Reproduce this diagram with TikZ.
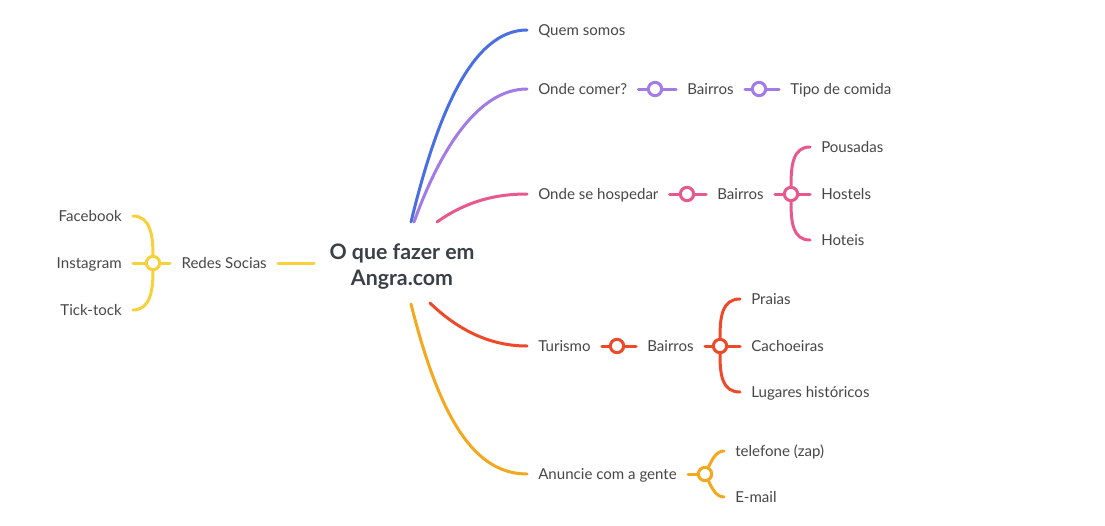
\documentclass[tikz,border=0pt]{standalone}
\usepackage{fontspec}
\setmainfont{Lato}
\usetikzlibrary{backgrounds}
\definecolor{cblue}{HTML}{4A6FE3}
\definecolor{cpurple}{HTML}{A27BE6}
\definecolor{cpink}{HTML}{E9588C}
\definecolor{cred}{HTML}{EE4A2A}
\definecolor{corange}{HTML}{F4A81D}
\definecolor{cyellow}{HTML}{F8D03A}
\definecolor{ctext}{HTML}{474747}
\definecolor{ctitle}{HTML}{3B4048}
\begin{document}
\begin{tikzpicture}[x=0.75pt,y=-0.75pt,
  txt/.style={font=\fontsize{11.3pt}{13pt}\selectfont, text=ctext, inner xsep=8.25pt, inner ysep=1pt, text height=8.2pt, text depth=0.2pt},
  dot/.style={circle, draw, line width=2.25pt, fill=white, minimum size=10pt, inner sep=0pt},
  br/.style={line width=2.25pt, line cap=round}]
\useasboundingbox (0,0) rectangle (1105,525);

% title
\node[font=\bfseries\fontsize{16pt}{19.5pt}\selectfont, text=ctitle, align=center] (title) at (402,266.5) {O que fazer em\\Angra.com};

% first level
\node[txt,anchor=west] (quem) at (527,30) {Quem somos};
\node[txt,anchor=west] (comer) at (527,89) {Onde comer?};
\node[txt,anchor=west] (hosp) at (527,194) {Onde se hospedar};
\node[txt,anchor=west] (tur) at (527,346) {Turismo};
\node[txt,anchor=west] (anu) at (527,474) {Anuncie com a gente};
\node[txt,anchor=east] (redes) at (278,263) {Redes Socias};

% comer
\node[dot,draw=cpurple] (pc1) at (655,89) {};
\node[txt,anchor=west] (pb) at (676,89) {Bairros};
\node[dot,draw=cpurple] (pc2) at (759,89) {};
\node[txt,anchor=west] (tipo) at (779,89) {Tipo de comida};

% hospedar
\node[dot,draw=cpink] (kc1) at (687,194) {};
\node[txt,anchor=west] (kb) at (706,194) {Bairros};
\node[dot,draw=cpink] (kc2) at (791,194) {};
\node[txt,anchor=west] (pous) at (810,147) {Pousadas};
\node[txt,anchor=west] (host) at (810,194) {Hostels};
\node[txt,anchor=west] (hot) at (810,240) {Hoteis};

% turismo
\node[dot,draw=cred] (rc1) at (617,346) {};
\node[txt,anchor=west] (rb) at (636,346) {Bairros};
\node[dot,draw=cred] (rc2) at (720,346) {};
\node[txt,anchor=west] (pra) at (740,299) {Praias};
\node[txt,anchor=west] (cach) at (740,346) {Cachoeiras};
\node[txt,anchor=west] (lug) at (740,392) {Lugares históricos};

% anuncie
\node[dot,draw=corange] (oc) at (705,474) {};
\node[txt,anchor=west] (tel) at (724,451) {telefone (zap)};
\node[txt,anchor=west] (mail) at (724,497) {E-mail};

% redes
\node[dot,draw=cyellow] (yc) at (153,263) {};
\node[txt,anchor=east] (face) at (133,216) {Facebook};
\node[txt,anchor=east] (insta) at (133,263) {Instagram};
\node[txt,anchor=east] (tick) at (133,310) {Tick-tock};

% branch roots
\coordinate (s1) at (411,222);
\coordinate (s2) at (414,222);
\coordinate (s3) at (437,222);
\coordinate (s4) at (430,303);
\coordinate (s5) at (411,304);
\coordinate (s6) at (314,263);

\begin{scope}[on background layer]
\fill[white] (0,0) rectangle (1105,525);
\draw[br,cblue] (s1) .. controls (437,115) and (472,30) .. (quem.west);
\draw[br,cpurple] (s2) .. controls (440,150) and (478,89) .. (comer.west);
\draw[br,cpink] (s3) .. controls (468,200) and (498,194) .. (hosp.west);
\draw[br,cred] (s4) .. controls (458,330) and (490,346) .. (tur.west);
\draw[br,corange] (s5) .. controls (440,420) and (475,474) .. (anu.west);
\draw[br,cyellow] (s6) -- (redes.east);

\draw[br,cpurple] (comer.east) -- (pc1) -- (pb.west);
\draw[br,cpurple] (pb.east) -- (pc2) -- (tipo.west);

\draw[br,cpink] (hosp.east) -- (kc1) -- (kb.west);
\draw[br,cpink] (kb.east) -- (kc2) -- (host.west);
\draw[br,cpink] (kc2) .. controls (791,165) and (793,147) .. (pous.west);
\draw[br,cpink] (kc2) .. controls (791,223) and (793,240) .. (hot.west);

\draw[br,cred] (tur.east) -- (rc1) -- (rb.west);
\draw[br,cred] (rb.east) -- (rc2) -- (cach.west);
\draw[br,cred] (rc2) .. controls (720,317) and (722,299) .. (pra.west);
\draw[br,cred] (rc2) .. controls (720,375) and (722,392) .. (lug.west);

\draw[br,corange] (anu.east) -- (oc);
\draw[br,corange] (oc) .. controls (712,460) and (716,451) .. (tel.west);
\draw[br,corange] (oc) .. controls (712,488) and (716,497) .. (mail.west);

\draw[br,cyellow] (yc) -- (insta.east);
\draw[br,cyellow] (yc) -- ++(17,0);
\draw[br,cyellow] (yc) .. controls (153,235) and (150,216) .. (face.east);
\draw[br,cyellow] (yc) .. controls (153,291) and (150,310) .. (tick.east);
\end{scope}
\end{tikzpicture}
\end{document}
